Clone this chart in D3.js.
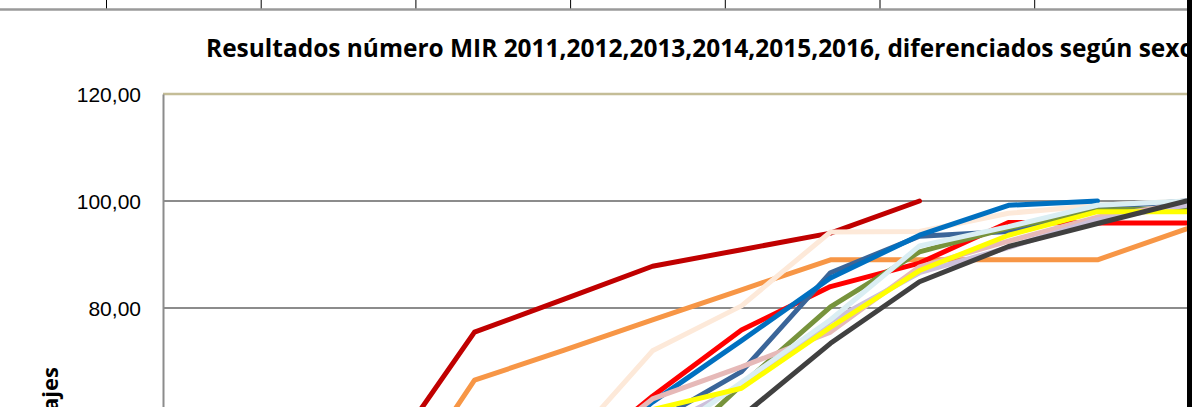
<!DOCTYPE html>
<html>
<head>
<meta charset="utf-8">
<script src="https://cdn.jsdelivr.net/npm/d3@7"></script>
<style>
  html, body { margin: 0; padding: 0; background: #fff; overflow: hidden; }
  svg { display: block; font-family: "Open Sans", "Noto Sans", sans-serif; }
</style>
</head>
<body>
<svg id="chart" width="1192" height="407"></svg>
<script>
// categories on the x axis (the axis itself is outside the visible crop)
const categories = ['1000', '2000', '3000', '4000', '5000', '6000', '7000', '8000', '9000', '10000', '11000', '12000'];
const yTicks = [0, 20, 40, 60, 80, 100, 120];

const titleText = 'Resultados número MIR 2011,2012,2013,2014,2015,2016, diferenciados según sexo';
const yTitle = 'Porcentajes';

// one array per series, percentages (null = no value)
const mujeres2011 = [18, 34, 51.6, 75.5, 81.6, 87.8, 90.9, 94.0, 100, null, null, null];
const hombres2011 = [12, 25, 41.7, 66.5, 72.1, 77.8, 83.4, 89.0, 89.0, 89.0, 89.0, 94.8];
const mujeres2012 = [5, 15, 32, 45, 53.3, 72.0, 80.4, 94.2, 94.3, 97.7, 99.2, 100];
const hombres2012 = [6, 15, 26, 38, 50, 63.5, 75.9, 84.0, 88.4, 96.0, 95.9, 95.9];
const mujeres2013 = [3, 10, 20, 32, 45, 58.5, 68.1, 86.6, 93.4, 94.3, 98.8, 100];
const hombres2013 = [5, 13, 24, 36, 49, 62.4, 73.9, 85.6, 93.6, 99.2, 100, null];
const mujeres2014 = [2, 8, 17, 28, 39, 50, 65.6, 80.2, 90.5, 95.0, 98.3, 98.6];
const hombres2014 = [3, 10, 20, 32, 50, 63.0, 69.0, 75.5, 87.7, 92.5, 97.0, 99.5];
const mujeres2015 = [2, 7, 15, 26, 40, 56.9, 65.5, 77.5, 86.6, 91.3, 96.5, 99.2];
const hombres2015 = [2, 7, 15, 26, 40, 54.4, 66.1, 77.8, 91.6, 95.2, 99.2, 100];
const mujeres2016 = [2, 8, 18, 30, 48, 61.0, 65.0, 76.4, 87.0, 93.6, 98.0, 98.0];
const hombres2016 = [1, 5, 12, 22, 33, 45, 59.7, 73.4, 84.9, 91.5, 95.8, 100];

const seriesNames = ['Mujeres 2011', 'Hombres 2011', 'Mujeres 2012', 'Hombres 2012', 'Mujeres 2013', 'Hombres 2013',
  'Mujeres 2014', 'Hombres 2014', 'Mujeres 2015', 'Hombres 2015', 'Mujeres 2016', 'Hombres 2016'];
const seriesValues = [mujeres2011, hombres2011, mujeres2012, hombres2012, mujeres2013, hombres2013,
  mujeres2014, hombres2014, mujeres2015, hombres2015, mujeres2016, hombres2016];
const seriesColors = ['#C00000', '#F79646', '#FDE9D9', '#FF0000', '#3A6599', '#0070C0',
  '#77933C', '#E6B9B8', '#CCC0DA', '#DAEEF3', '#FFFF00', '#404040'];

const width = 1192;
const height = 407;
const plot = { left: 163, top: 94, step: 89, bottom: 736 };

const svg = d3.select('#chart');

// spreadsheet cell borders behind the chart
const sheet = svg.append('g').attr('class', 'sheet');
sheet.selectAll('line.cell')
  .data(d3.range(7))
  .join('line')
    .attr('class', 'cell')
    .attr('x1', i => 106.5 + i * 154.7)
    .attr('x2', i => 106.5 + i * 154.7)
    .attr('y1', 0)
    .attr('y2', 9)
    .style('stroke', '#000')
    .style('stroke-width', 1);
sheet.append('line')
  .attr('x1', 0).attr('x2', width)
  .attr('y1', 9.5).attr('y2', 9.5)
  .style('stroke', '#9a9a9a')
  .style('stroke-width', 2.5);

const x = d3.scalePoint()
  .domain(categories)
  .range([plot.left, plot.left + plot.step * categories.length])
  .padding(0.5);

const y = d3.scaleLinear()
  .domain([0, 120])
  .range([plot.bottom, plot.top]);

// gridlines
const grid = svg.append('g').attr('class', 'grid');
grid.selectAll('line')
  .data(yTicks.filter(t => t < 120))
  .join('line')
    .attr('x1', plot.left)
    .attr('x2', width)
    .attr('y1', d => y(d))
    .attr('y2', d => y(d))
    .style('stroke', '#8c8c8c')
    .style('stroke-width', 2);

// plot area top border
svg.append('line')
  .attr('x1', plot.left).attr('x2', width)
  .attr('y1', y(120)).attr('y2', y(120))
  .style('stroke', '#C4BD97')
  .style('stroke-width', 2.5);

// y axis -- only the labels that fall inside the window get drawn
const visibleTicks = yTicks.filter(t => y(t) < height - 10);
const yAxis = svg.append('g')
  .attr('class', 'y-axis')
  .attr('transform', `translate(${plot.left},0)`)
  .call(d3.axisLeft(y).tickValues(visibleTicks).tickSize(0).tickPadding(22)
    .tickFormat(d => d3.format('.2f')(d).replace('.', ',')));
yAxis.select('.domain').style('stroke', '#8c8c8c').style('stroke-width', 2);
yAxis.selectAll('text')
  .style('font-size', '21px')
  .style('fill', '#000')
  .attr('dy', '0.36em');

// y axis title
svg.append('text')
  .attr('transform', 'translate(58,367) rotate(-90)')
  .attr('text-anchor', 'end')
  .style('font-size', '22px')
  .style('font-weight', 'bold')
  .text(yTitle);

// series lines
const line = d3.line()
  .defined(d => d != null)
  .x((d, i) => x(categories[i]))
  .y(d => y(d));

svg.append('g')
  .attr('class', 'series')
  .selectAll('path')
  .data(seriesValues)
  .join('path')
    .attr('d', d => line(d))
    .attr('data-name', (d, i) => seriesNames[i])
    .style('fill', 'none')
    .style('stroke', (d, i) => seriesColors[i])
    .style('stroke-width', 5)
    .style('stroke-linejoin', 'round')
    .style('stroke-linecap', 'round');

// title, sized so "...según sex" lands where the reference shows it
const title = svg.append('text')
  .attr('x', 206)
  .attr('y', 57)
  .style('font-size', '22px')
  .style('font-weight', 'bold')
  .text(titleText.slice(0, titleText.length - 1));
const measured = title.node().getComputedTextLength();
const fitSize = 22 * (974 / measured);
title.style('font-size', `${fitSize}px`).text(titleText);

// window edge on the right
svg.append('rect')
  .attr('x', 1187)
  .attr('y', 0)
  .attr('width', 5)
  .attr('height', height)
  .style('fill', '#000');
</script>
</body>
</html>
